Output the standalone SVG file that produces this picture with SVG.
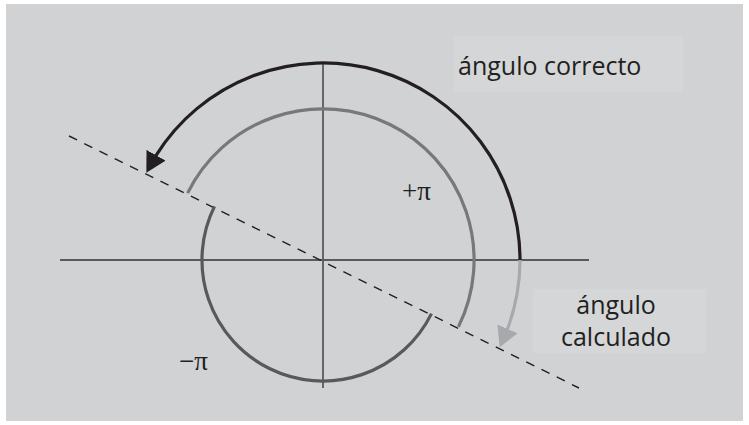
<svg xmlns="http://www.w3.org/2000/svg" width="749" height="425" viewBox="0 0 749 425">
<style>
.axis{stroke:#5a5a5c;stroke-width:1.8;fill:none}
.dash{stroke:#231f20;stroke-width:1.4;stroke-dasharray:9 8;fill:none}
.arc{fill:none;stroke-width:3.2}
.lbl{font-family:"Open Sans","Noto Sans",sans-serif;font-size:25px;fill:#231f20}
.pi{font-family:"Liberation Serif",serif;font-size:27px;fill:#231f20}
.box{fill:#d5d6d8}
</style>
<defs>
<marker id="ahDark" viewBox="0 0 20 22" refX="16" refY="11" markerWidth="20" markerHeight="22" markerUnits="userSpaceOnUse" orient="auto"><path d="M0,0 L20,11 L0,22 z" fill="#231f20"/></marker>
<marker id="ahLight" viewBox="0 0 20 22" refX="16" refY="11" markerWidth="20" markerHeight="22" markerUnits="userSpaceOnUse" orient="auto"><path d="M0,0 L20,11 L0,22 z" fill="#a7a9ac"/></marker>
</defs>
<rect x="6" y="4" width="737" height="417" fill="#d1d2d4"/>
<g id="label-correcto"><rect class="box" x="454" y="36" width="229" height="56"/><text class="lbl" x="458" y="75">ángulo correcto</text></g>
<g id="label-calculado"><rect class="box" x="533" y="289" width="173" height="64"/><text class="lbl" x="616" y="314" text-anchor="middle">ángulo</text><text class="lbl" x="616" y="346" text-anchor="middle">calculado</text></g>
<g id="axes">
<line class="axis" x1="60" y1="260" x2="589" y2="260"/>
<line class="axis" x1="323" y1="63" x2="323" y2="388"/>
</g>
<g id="connectors">
<line class="dash" x1="69" y1="136" x2="579" y2="388"/>
<path class="arc" stroke="#77787b" d="M187.6,193.1 A151,151 0 1 1 458.4,326.9"/>
<path class="arc" stroke="#58595b" d="M214.5,206.4 A121,121 0 1 0 431.5,313.6"/>
<path class="arc" stroke="#231f20" stroke-width="3.5" marker-end="url(#ahDark)" d="M520,260 A197,197 0 0 0 156.1,155.3 L148.3,169.2"/>
<path class="arc" stroke="#a7a9ac" marker-end="url(#ahLight)" d="M520,260 A197,197 0 0 1 507.5,329 L501.2,343.6"/>
</g>
<g id="label-plus-pi"><text class="pi" x="402" y="200">+π</text></g>
<g id="label-minus-pi"><text class="pi" x="179" y="370">−π</text></g>
</svg>
